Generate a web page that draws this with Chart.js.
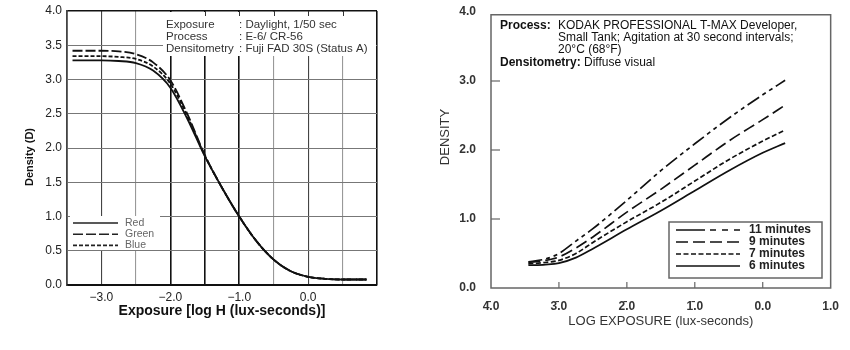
<!DOCTYPE html>
<html>
<head>
<meta charset="utf-8">
<title>Characteristic curves</title>
<script src="https://cdn.jsdelivr.net/npm/chart.js@4.4.1/dist/chart.umd.min.js"></script>
<style>
  body { margin: 0; background: #fff; }
  .panel { position: absolute; top: 0; width: 425px; height: 350px; }
</style>
</head>
<body>
<div class="panel" style="left:0"><canvas id="leftChart" width="425" height="350"></canvas></div>
<div class="panel" style="left:425px"><canvas id="rightChart" width="425" height="350"></canvas></div>
<script>
// ---- Left chart data (colour reversal film, E-6) ----
const leftExposure = [-3.42, -3.0, -2.75, -2.5, -2.25, -2.0, -1.75, -1.5, -1.25, -1.0, -0.75, -0.5, -0.25, 0.0, 0.25, 0.5, 0.85];
const redDensity   = [3.28, 3.28, 3.27, 3.24, 3.13, 2.88, 2.42, 1.88, 1.42, 1.0, 0.64, 0.37, 0.2, 0.12, 0.09, 0.08, 0.08];
const greenDensity = [3.42, 3.42, 3.41, 3.37, 3.25, 2.99, 2.49, 1.90, 1.42, 1.0, 0.64, 0.37, 0.2, 0.12, 0.09, 0.08, 0.08];
const blueDensity  = [3.34, 3.34, 3.33, 3.30, 3.19, 2.94, 2.46, 1.89, 1.42, 1.0, 0.64, 0.37, 0.2, 0.12, 0.09, 0.08, 0.08];
const leftSeriesNames = ['Red', 'Green', 'Blue'];
const leftXTickLabels = ['', '\u22123.0', '', '\u22122.0', '', '\u22121.0', '', '0.0', '', ''];
const leftYTickLabels = ['0.0', '0.5', '1.0', '1.5', '2.0', '2.5', '3.0', '3.5', '4.0'];
const leftInfoLabels = ['Exposure', 'Process', 'Densitometry'];
const leftInfoValues = [': Daylight, 1/50 sec', ': E-6/ CR-56', ': Fuji FAD 30S (Status A)'];

// ---- Right chart data (T-MAX developer times) ----
const rightExposure = [-3.45, -3.2, -3.0, -2.75, -2.5, -2.0, -1.5, -1.0, -0.5, 0.0, 0.33];
const density11min = [0.38, 0.42, 0.50, 0.68, 0.86, 1.27, 1.70, 2.09, 2.46, 2.80, 3.01];
const density9min  = [0.37, 0.40, 0.45, 0.58, 0.74, 1.10, 1.43, 1.78, 2.13, 2.44, 2.65];
const density7min  = [0.35, 0.37, 0.40, 0.50, 0.66, 0.96, 1.24, 1.55, 1.86, 2.13, 2.29];
const density6min  = [0.33, 0.34, 0.36, 0.44, 0.57, 0.85, 1.12, 1.41, 1.70, 1.96, 2.10];
const rightSeriesNames = ['11 minutes', '9 minutes', '7 minutes', '6 minutes'];
const rightXTickLabels = ['4\u0304.0', '3\u0304.0', '2\u0304.0', '1\u0304.0', '0.0', '1.0'];
const rightYTickLabels = ['0.0', '1.0', '2.0', '3.0', '4.0'];
const rightXTickMarks = [-3, -2, -1, 0];
const rightYTickMarks = [1, 2, 3];

const FONT = '"Liberation Sans", Arial, Helvetica, sans-serif';
Chart.defaults.font.family = FONT;
Chart.defaults.color = '#222';

function toPoints(xs, ys) {
    return xs.map((x, i) => ({ x: x, y: ys[i] }));
}

// keep the plot area where the layout padding puts it
function fixVertical(width) {
    return s => {
        s.width = width;
        s.paddingTop = 0;
        s.paddingBottom = 0;
    };
}

// dash styles, shared by curve and legend sample
const leftDashes = { Red: [], Green: [10, 3], Blue: [4, 2] };
const rightDashes = [[14, 4, 4, 4, 4, 4], [12, 5], [5, 2.5], []];
const rightLegendDashes = [[29, 5, 6, 6, 6, 6, 6, 20], [12, 5], [5, 2.5], []];

// Left panel: info box, legend, y title
const leftNotes = {
    id: 'leftNotes',
    afterDatasetsDraw(chart) {
        const { ctx, chartArea: a, scales: { x } } = chart;
        ctx.save();

        // info box covers the grid
        ctx.fillStyle = '#fff';
        ctx.fillRect(163, a.top + 1, a.right - 164, 44);
        ctx.strokeStyle = '#333';
        ctx.lineWidth = 1;
        [-1.5, -1, -0.5, 0, 0.5].forEach(v => {
            const px = Math.round(x.getPixelForValue(v)) + 0.5;
            ctx.beginPath();
            ctx.moveTo(px, a.top);
            ctx.lineTo(px, a.top + 5);
            ctx.stroke();
        });
        ctx.font = '11.5px ' + FONT;
        ctx.fillStyle = '#333';
        ctx.textBaseline = 'alphabetic';
        leftInfoLabels.forEach((t, i) => {
            const by = 27.5 + i * 12;
            ctx.fillText(t, 166, by);
            ctx.fillText(leftInfoValues[i], 239, by);
        });

        // legend
        ctx.fillStyle = '#fff';
        ctx.fillRect(70, 216, 90, 34);
        ctx.strokeStyle = '#222';
        ctx.lineWidth = 1.6;
        ctx.font = '10.5px ' + FONT;
        ctx.textBaseline = 'middle';
        leftSeriesNames.forEach((name, i) => {
            const ly = 223 + i * 11.2;
            ctx.setLineDash(leftDashes[name]);
            ctx.beginPath();
            ctx.moveTo(73, ly);
            ctx.lineTo(118, ly);
            ctx.stroke();
            ctx.fillStyle = '#666';
            ctx.fillText(name, 125, ly);
        });
        ctx.setLineDash([]);

        // y axis title
        ctx.translate(30, 157);
        ctx.rotate(-Math.PI / 2);
        ctx.textAlign = 'center';
        ctx.fillStyle = '#111';
        ctx.font = 'bold 11px ' + FONT;
        ctx.fillText('Density (D)', 0, 0);
        ctx.restore();
    }
};

// Right panel: frame, inner ticks, notes, legend, y title
const rightNotes = {
    id: 'rightNotes',
    afterDraw(chart) {
        const { ctx, chartArea: a, scales: { x, y } } = chart;
        ctx.save();

        const top = y.getPixelForValue(3.96);
        ctx.strokeStyle = '#666';
        ctx.lineWidth = 1.5;
        ctx.strokeRect(a.left, top, a.right - a.left, a.bottom - top);

        ctx.lineWidth = 1.2;
        rightYTickMarks.forEach(v => {
            const py = y.getPixelForValue(v);
            ctx.beginPath();
            ctx.moveTo(a.left, py);
            ctx.lineTo(a.left + 9, py);
            ctx.stroke();
        });
        rightXTickMarks.forEach(v => {
            const px = x.getPixelForValue(v);
            ctx.beginPath();
            ctx.moveTo(px, a.bottom);
            ctx.lineTo(px, a.bottom - 6);
            ctx.stroke();
        });

        // process notes
        ctx.fillStyle = '#111';
        ctx.font = 'bold 12px ' + FONT;
        ctx.fillText('Process:', 75, 29);
        ctx.fillText('Densitometry:', 75, 66);
        const dw = ctx.measureText('Densitometry: ').width;
        ctx.font = '12px ' + FONT;
        ctx.fillText('KODAK PROFESSIONAL T-MAX Developer,', 133, 29);
        ctx.fillText('Small Tank; Agitation at 30 second intervals;', 133, 41);
        ctx.fillText('20\u00B0C (68\u00B0F)', 133, 53);
        ctx.fillText('Diffuse visual', 75 + dw, 66);

        // legend
        ctx.fillStyle = '#fff';
        ctx.fillRect(244, 222, 153, 56);
        ctx.strokeStyle = '#666';
        ctx.lineWidth = 1.5;
        ctx.strokeRect(244, 222, 153, 56);
        ctx.strokeStyle = '#111';
        ctx.lineWidth = 1.7;
        ctx.font = 'bold 12px ' + FONT;
        ctx.fillStyle = '#222';
        ctx.textBaseline = 'middle';
        rightSeriesNames.forEach((name, i) => {
            const ly = 230 + i * 12;
            ctx.setLineDash(rightLegendDashes[i]);
            ctx.beginPath();
            ctx.moveTo(251, ly);
            ctx.lineTo(315, ly);
            ctx.stroke();
            ctx.fillText(name, 324, ly);
        });
        ctx.setLineDash([]);

        // y axis title
        ctx.translate(20, 137);
        ctx.rotate(-Math.PI / 2);
        ctx.textAlign = 'center';
        ctx.fillStyle = '#333';
        ctx.font = '13px ' + FONT;
        ctx.fillText('DENSITY', 0, 0);
        ctx.restore();
    }
};

function strongX(v) {
    return v === -2 || v === -1.5 || v === -1 || v === -3.5 || v === 1;
}

// Left Chart
new Chart(document.getElementById('leftChart'), {
    type: 'line',
    data: {
        datasets: [
            { label: 'Green', data: toPoints(leftExposure, greenDensity), borderDash: leftDashes.Green },
            { label: 'Blue', data: toPoints(leftExposure, blueDensity), borderDash: leftDashes.Blue },
            { label: 'Red', data: toPoints(leftExposure, redDensity), borderDash: leftDashes.Red }
        ]
    },
    options: {
        responsive: false,
        animation: false,
        layout: { padding: { left: 0, top: 11, right: 48, bottom: 28 } },
        elements: {
            point: { radius: 0 },
            line: { borderColor: '#111', borderWidth: 1.8, cubicInterpolationMode: 'monotone', fill: false }
        },
        plugins: { legend: { display: false }, tooltip: { enabled: false } },
        scales: {
            x: {
                type: 'linear',
                min: -3.5,
                max: 1.0,
                afterFit: s => { s.height = 37; },
                ticks: {
                    stepSize: 0.5,
                    autoSkip: false,
                    maxRotation: 0,
                    padding: 5,
                    font: { size: 12 },
                    color: '#222',
                    callback: (v, i) => leftXTickLabels[i]
                },
                grid: {
                    drawTicks: false,
                    color: c => strongX(c.tick.value) ? '#111' : (c.tick.value === -3 || c.tick.value === 0 ? '#444' : '#999'),
                    lineWidth: c => strongX(c.tick.value) ? 1.6 : 1.1
                },
                border: { color: '#111', width: 1.5 },
                title: {
                    display: true,
                    text: 'Exposure [log H (lux-seconds)]',
                    color: '#111',
                    font: { size: 14, weight: 'bold' },
                    padding: { top: 0, bottom: 2 }
                }
            },
            y: {
                min: 0,
                max: 4,
                afterFit: fixVertical(67),
                ticks: {
                    stepSize: 0.5,
                    padding: 5,
                    font: { size: 12 },
                    color: '#222',
                    callback: (v, i) => leftYTickLabels[i]
                },
                grid: {
                    drawTicks: false,
                    color: c => (c.tick.value === 0 || c.tick.value === 4) ? '#111' : '#777',
                    lineWidth: c => (c.tick.value === 4) ? 1.5 : 1
                },
                border: { color: '#444', width: 1.2 }
            }
        }
    },
    plugins: [leftNotes]
});

// Right Chart
new Chart(document.getElementById('rightChart'), {
    type: 'line',
    data: {
        datasets: [
            { label: rightSeriesNames[0], data: toPoints(rightExposure, density11min), borderDash: rightDashes[0] },
            { label: rightSeriesNames[1], data: toPoints(rightExposure, density9min), borderDash: rightDashes[1] },
            { label: rightSeriesNames[2], data: toPoints(rightExposure, density7min), borderDash: rightDashes[2] },
            { label: rightSeriesNames[3], data: toPoints(rightExposure, density6min), borderDash: rightDashes[3] }
        ]
    },
    options: {
        responsive: false,
        animation: false,
        layout: { padding: { left: 0, top: 12, right: 19, bottom: 19 } },
        elements: {
            point: { radius: 0 },
            line: { borderColor: '#111', borderWidth: 1.7, cubicInterpolationMode: 'monotone', fill: false }
        },
        plugins: { legend: { display: false }, tooltip: { enabled: false } },
        scales: {
            x: {
                type: 'linear',
                min: -4,
                max: 1,
                afterFit: s => { s.height = 43; },
                ticks: {
                    stepSize: 1,
                    autoSkip: false,
                    maxRotation: 0,
                    padding: 11,
                    font: { size: 12, weight: 'bold' },
                    color: '#333',
                    callback: (v, i) => rightXTickLabels[i]
                },
                grid: { display: false, drawTicks: false },
                border: { display: false },
                title: {
                    display: true,
                    text: 'LOG EXPOSURE (lux-seconds)',
                    color: '#333',
                    font: { size: 13 },
                    padding: { top: 0, bottom: 2 }
                }
            },
            y: {
                min: 0,
                max: 4,
                afterFit: fixVertical(66),
                ticks: {
                    stepSize: 1,
                    padding: 15,
                    font: { size: 12, weight: 'bold' },
                    color: '#333',
                    callback: (v, i) => rightYTickLabels[i]
                },
                grid: { display: false, drawTicks: false },
                border: { display: false }
            }
        }
    },
    plugins: [rightNotes]
});
</script>
</body>
</html>
